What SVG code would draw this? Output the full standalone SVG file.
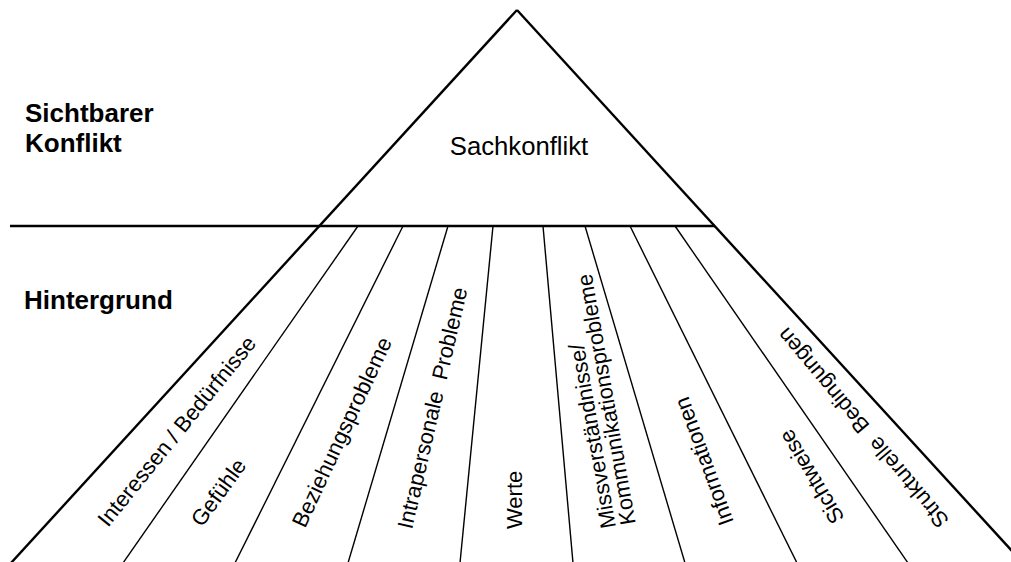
<svg xmlns="http://www.w3.org/2000/svg" width="1011" height="562" viewBox="0 0 1011 562">
<style>
.thick{stroke:#000;stroke-width:2.4;fill:none}
.thin{stroke:#000;stroke-width:1.4;fill:none}
.bold{font-family:"Liberation Sans",Arial,sans-serif;font-weight:bold;font-size:26px;fill:#000}
.reg{font-family:"Liberation Sans",Arial,sans-serif;font-size:25.7px;fill:#000}
.lbl{font-family:"Liberation Sans",Arial,sans-serif;font-size:22px;fill:#000}
</style>
<rect width="1011" height="562" fill="#fff"/>
<g id="connectors">
<line class="thick" x1="517" y1="10" x2="11" y2="563"/>
<line class="thick" x1="517" y1="10" x2="1023" y2="563"/>
<line class="thick" x1="10" y1="226" x2="715" y2="226"/>
<line class="thin" x1="358" y1="226" x2="123" y2="563"/>
<line class="thin" x1="403" y1="226" x2="235" y2="563"/>
<line class="thin" x1="448" y1="226" x2="348" y2="563"/>
<line class="thin" x1="493" y1="226" x2="460" y2="563"/>
<line class="thin" x1="543" y1="226" x2="573" y2="563"/>
<line class="thin" x1="585" y1="226" x2="685" y2="563"/>
<line class="thin" x1="630" y1="226" x2="797" y2="563"/>
<line class="thin" x1="675" y1="226" x2="908" y2="563"/>
</g>
<g id="sichtbarer"><text class="bold" x="25" y="122">Sichtbarer</text><text class="bold" x="25" y="152">Konflikt</text></g>
<g id="hintergrund"><text class="bold" x="24" y="309">Hintergrund</text></g>
<g id="sachkonflikt"><text class="reg" x="519" y="155" text-anchor="middle">Sachkonflikt</text></g>
<g id="interessen"><text class="lbl" transform="translate(108,528) rotate(-51)">Interessen / Bedürfnisse</text></g>
<g id="gefuehle"><text class="lbl" transform="translate(202,528) rotate(-54)">Gefühle</text></g>
<g id="beziehung"><text class="lbl" transform="translate(305,529) rotate(-65)">Beziehungsprobleme</text></g>
<g id="intrapersonal"><text class="lbl" transform="translate(412,530) rotate(-77)">Intrapersonale&#160; Probleme</text></g>
<g id="werte"><text class="lbl" transform="translate(522,529) rotate(-90)">Werte</text></g>
<g id="missverstaendnisse"><text class="lbl" transform="translate(616,527) rotate(-100)"><tspan x="0" y="0">Missverständnisse/</tspan><tspan x="0" y="20">Kommunikationsprobleme</tspan></text></g>
<g id="informationen"><text class="lbl" transform="translate(734,522) rotate(-110)">Informationen</text></g>
<g id="sichtweise"><text class="lbl" transform="translate(845,518) rotate(-121)">Sichtweise</text></g>
<g id="strukturelle"><text class="lbl" transform="translate(950,520) rotate(-130)">Strukturelle&#160; Bedingungen</text></g>
</svg>
